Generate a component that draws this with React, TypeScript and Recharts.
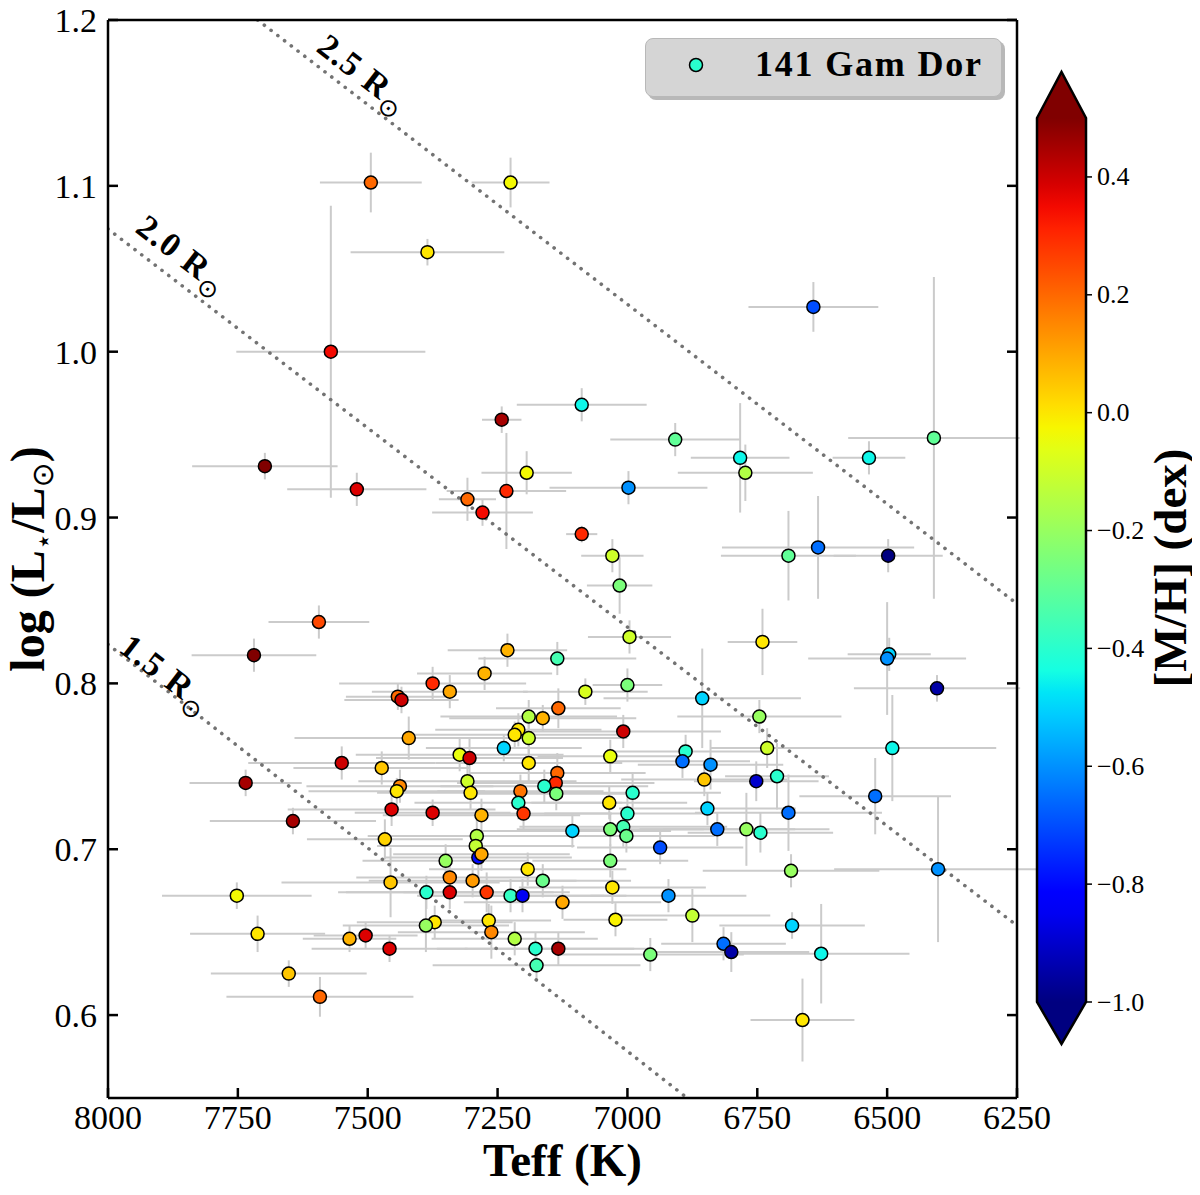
import React from 'react';
import {
    ScatterChart, Scatter, XAxis, YAxis, ErrorBar, ReferenceLine, ReferenceDot, Legend,
} from 'recharts';

// 141 Gam Dor stars: Teff (K), log(L/Lsun), [M/H] and their uncertainties
const teff = [
    7494, 7225, 7385, 7571, 7698, 7521, 7242, 7308, 7279, 7233,
    7194, 7088, 6908, 6783, 6773, 6998, 6642, 6535, 6410, 7088,
    7029, 7015, 6996, 6690, 6633, 6498, 6740, 6496, 6500, 6404,
    6856, 6746, 6731, 6490, 6840, 6852, 6752, 6712, 6523, 6846,
    6690, 6827, 6771, 6744, 6685, 6402, 6683, 6815, 6800, 6627,
    6663, 7594, 7719, 7375, 7442, 7435, 7342, 7421, 7550, 7473,
    7735, 7438, 7444, 7454, 7375, 7644, 7467, 7350, 7342, 7456,
    7387, 7342, 7752, 7371, 7388, 7712, 7535, 7504, 7458, 7652,
    7592, 7231, 7135, 7275, 7081, 7000, 7133, 7190, 7163, 7210,
    7217, 7190, 7008, 7238, 7323, 7304, 7033, 6888, 6894, 7190,
    7135, 7138, 7160, 7137, 7308, 7302, 7206, 7210, 7200, 7281,
    6990, 7035, 7000, 7106, 7033, 7008, 7002, 7290, 7292, 7287,
    7281, 6937, 7033, 7192, 7298, 7163, 7029, 7271, 7225, 7202,
    7125, 6921, 7267, 7262, 7023, 6875, 7217, 7177, 7133, 7175,
    6956,
];
const logL = [
    1.102, 1.102, 1.060, 1.000, 0.931, 0.917, 0.959, 0.911, 0.903, 0.916,
    0.927, 0.968, 0.947, 0.936, 0.927, 0.918, 1.027, 0.936, 0.948, 0.890,
    0.877, 0.859, 0.828, 0.877, 0.882, 0.877, 0.825, 0.8175, 0.815, 0.797,
    0.791, 0.780, 0.761, 0.761, 0.751, 0.742, 0.741, 0.744, 0.732, 0.7245,
    0.722, 0.712, 0.712, 0.710, 0.687, 0.688, 0.654, 0.643, 0.638, 0.637,
    0.597, 0.837, 0.817, 0.800, 0.792, 0.790, 0.795, 0.767, 0.752, 0.749,
    0.740, 0.738, 0.735, 0.724, 0.722, 0.717, 0.706, 0.693, 0.683, 0.680,
    0.674, 0.674, 0.672, 0.656, 0.654, 0.649, 0.646, 0.648, 0.640, 0.625,
    0.611, 0.820, 0.815, 0.806, 0.795, 0.799, 0.785, 0.780, 0.779, 0.772,
    0.769, 0.767, 0.771, 0.761, 0.757, 0.755, 0.756, 0.759, 0.753, 0.752,
    0.746, 0.740, 0.738, 0.7335, 0.741, 0.734, 0.735, 0.728, 0.7215, 0.7205,
    0.734, 0.728, 0.7215, 0.711, 0.712, 0.7135, 0.708, 0.708, 0.702, 0.695,
    0.697, 0.701, 0.693, 0.688, 0.681, 0.681, 0.677, 0.674, 0.672, 0.672,
    0.668, 0.672, 0.657, 0.650, 0.6575, 0.660, 0.646, 0.640, 0.640, 0.630,
    0.6365,
];
const metal = [
    0.20, -0.03, 0.00, 0.35, 0.50, 0.38, 0.45, 0.20, 0.35, 0.30,
    -0.03, -0.45, -0.30, -0.45, -0.15, -0.60, -0.70, -0.45, -0.30, 0.30,
    -0.10, -0.25, -0.10, -0.30, -0.65, -1.00, 0.00, -0.50, -0.60, -0.95,
    -0.50, -0.20, -0.10, -0.45, -0.60, 0.05, -0.90, -0.40, -0.65, -0.50,
    -0.65, -0.65, -0.20, -0.40, -0.20, -0.60, -0.50, -0.65, -0.95, -0.45,
    0.00, 0.25, 0.50, 0.30, 0.20, 0.40, 0.10, 0.10, 0.40, 0.05,
    0.45, 0.15, 0.00, 0.38, 0.38, 0.45, 0.03, -0.20, 0.15, 0.05,
    -0.40, 0.38, -0.03, 0.00, -0.20, 0.00, 0.08, 0.38, 0.38, 0.05,
    0.20, 0.08, -0.35, 0.08, -0.08, -0.25, 0.20, -0.15, 0.08, 0.00,
    0.00, -0.10, 0.40, -0.50, -0.05, 0.40, -0.05, -0.40, -0.65, 0.00,
    0.20, 0.30, -0.40, -0.25, -0.10, 0.00, 0.18, -0.40, 0.28, 0.08,
    -0.40, 0.00, -0.40, -0.50, -0.25, -0.35, -0.28, -0.15, -0.12, -0.80,
    0.10, -0.70, -0.25, 0.00, 0.12, -0.28, 0.00, 0.28, -0.38, -0.85,
    0.10, -0.60, 0.00, 0.15, -0.02, -0.12, -0.15, -0.40, 0.45, -0.35,
    -0.25,
];
const teffErr = [
    98, 75, 148, 182, 140, 134, 38, 55, 97, 115,
    87, 125, 125, 95, 130, 152, 125, 70, 165, 30,
    60, 63, 80, 130, 185, 105, 67, 80, 152, 160,
    190, 158, 110, 200, 140, 160, 120, 100, 146, 170,
    180, 150, 160, 140, 170, 200, 140, 120, 150, 170,
    100, 97, 120, 180, 100, 110, 150, 220, 180, 170,
    108, 180, 170, 200, 150, 160, 150, 160, 180, 210,
    170, 200, 144, 150, 160, 130, 90, 100, 150, 150,
    180, 115, 152, 130, 120, 67, 120, 170, 180, 160,
    200, 190, 188, 150, 200, 180, 140, 150, 130, 180,
    170, 190, 200, 160, 210, 180, 160, 200, 170, 190,
    170, 150, 160, 190, 180, 200, 170, 210, 190, 180,
    170, 160, 150, 190, 200, 170, 180, 160, 180, 200,
    190, 150, 120, 180, 100, 150, 160, 190, 180, 200,
    180,
];
const logLErr = [
    0.018, 0.015, 0.008, 0.088, 0.008, 0.010, 0.008, 0.013, 0.008, 0.035,
    0.013, 0.010, 0.010, 0.033, 0.017, 0.010, 0.015, 0.010, 0.097, 0.005,
    0.010, 0.017, 0.010, 0.027, 0.031, 0.010, 0.020, 0.010, 0.034, 0.008,
    0.030, 0.010, 0.012, 0.032, 0.015, 0.010, 0.012, 0.020, 0.023, 0.010,
    0.023, 0.010, 0.022, 0.012, 0.010, 0.044, 0.008, 0.010, 0.012, 0.030,
    0.025, 0.010, 0.010, 0.010, 0.008, 0.008, 0.010, 0.013, 0.010, 0.010,
    0.008, 0.010, 0.008, 0.010, 0.008, 0.008, 0.012, 0.010, 0.010, 0.021,
    0.010, 0.010, 0.008, 0.010, 0.016, 0.011, 0.008, 0.008, 0.008, 0.008,
    0.012, 0.010, 0.010, 0.010, 0.008, 0.010, 0.012, 0.010, 0.008, 0.010,
    0.008, 0.010, 0.010, 0.008, 0.010, 0.012, 0.010, 0.010, 0.010, 0.012,
    0.012, 0.010, 0.010, 0.010, 0.010, 0.010, 0.010, 0.010, 0.010, 0.010,
    0.012, 0.010, 0.010, 0.010, 0.010, 0.012, 0.010, 0.010, 0.010, 0.012,
    0.010, 0.010, 0.010, 0.010, 0.010, 0.010, 0.010, 0.012, 0.010, 0.010,
    0.010, 0.010, 0.010, 0.016, 0.010, 0.016, 0.010, 0.010, 0.010, 0.010,
    0.010,
];

const xTicks = [8000, 7750, 7500, 7250, 7000, 6750, 6500, 6250];
const yTicks = [0.6, 0.7, 0.8, 0.9, 1.0, 1.1, 1.2];
const cbarTicks = [0.4, 0.2, 0.0, -0.2, -0.4, -0.6, -0.8, -1.0];

// constant-radius guide lines
const radiusLabels = ['2.5', '2.0', '1.5'];
const radiusStart = [{ x: 7712, y: 1.2 }, { x: 8000, y: 1.074 }, { x: 8000, y: 0.8235 }];
const radiusEnd = [{ x: 6250, y: 0.848 }, { x: 6250, y: 0.654 }, { x: 6885, y: 0.55 }];
const radiusLabelAt = [{ x: 7512, y: 1.166 }, { x: 7860, y: 1.057 }, { x: 7892, y: 0.804 }];

const SERIF = '"Liberation Serif", "DejaVu Serif", serif';
const MH_MIN = -1.0;
const MH_MAX = 0.5;

// matplotlib "jet" segment data
const JET_R = [[0, 0], [0.35, 0], [0.66, 1], [0.89, 1], [1, 0.5]];
const JET_G = [[0, 0], [0.125, 0], [0.375, 1], [0.64, 1], [0.91, 0], [1, 0]];
const JET_B = [[0, 0.5], [0.11, 1], [0.34, 1], [0.65, 0], [1, 0]];

const seg = (pts: number[][], t: number) => {
    for (let i = 1; i < pts.length; i++) {
        if (t <= pts[i][0]) {
            const [t0, v0] = pts[i - 1];
            const [t1, v1] = pts[i];
            return v0 + ((v1 - v0) * (t - t0)) / (t1 - t0);
        }
    }
    return pts[pts.length - 1][1];
};

const jetAt = (t: number) => {
    const c = Math.min(1, Math.max(0, t));
    const to255 = (v: number) => Math.round(v * 255);
    return `rgb(${to255(seg(JET_R, c))},${to255(seg(JET_G, c))},${to255(seg(JET_B, c))})`;
};
const metalColor = (v: number) => jetAt((v - MH_MIN) / (MH_MAX - MH_MIN));

const stars = teff.map((t, i) => ({
    teff: t, logL: logL[i], mh: metal[i], teffErr: teffErr[i], logLErr: logLErr[i],
}));

const axisStroke = { stroke: '#000', strokeWidth: 2.5 };
const tickFont = { fill: '#000', fontSize: 34, fontFamily: SERIF };

const noMarker = () => <g />;

const StarDot = (props: any) => (
    <circle cx={props.cx} cy={props.cy} r={6.5} fill={metalColor(props.payload.mh)} stroke="#000" strokeWidth={1.5} />
);

const RadiusText = ({ cx, cy, value }: { cx: number; cy: number; value: string }) => (
    <text
        x={cx} y={cy} transform={`rotate(37.5 ${cx} ${cy})`}
        textAnchor="middle" dominantBaseline="middle"
        fontFamily={SERIF} fontWeight="bold" fontSize={34} fill="#000" letterSpacing={1.5}
    >
        {`${value} R`}
        <tspan dy={10} fontSize={25} fontWeight="normal" fontFamily="DejaVu Sans">⊙</tspan>
    </text>
);

const XTitle = (props: any) => {
    const vb = props.viewBox || { x: 100, y: 1090, width: 909, height: 60 };
    return (
        <text x={vb.x + vb.width / 2} y={vb.y + 78} textAnchor="middle" fontFamily={SERIF} fontWeight="bold" fontSize={47} fill="#000">
            Teff (K)
        </text>
    );
};

const YTitle = (props: any) => {
    const vb = props.viewBox || { x: 10, y: 12, width: 90, height: 1078 };
    const x = vb.x + 26;
    const y = vb.y + vb.height / 2;
    return (
        <text x={x} y={y} transform={`rotate(-90 ${x} ${y})`} textAnchor="middle" fontFamily={SERIF} fontWeight="bold" fontSize={48} fill="#000">
            log (L
            <tspan dy={9} fontSize={28} fontFamily="DejaVu Sans" fontWeight="normal">⋆</tspan>
            <tspan dy={-9}>/L</tspan>
            <tspan dy={9} fontSize={30} fontFamily="DejaVu Sans" fontWeight="normal">⊙</tspan>
            <tspan dy={-9}>)</tspan>
        </text>
    );
};

const LegendBox = () => (
    <div style={{
        position: 'relative', width: 357, height: 59, boxSizing: 'border-box', background: '#d5d5d5',
        border: '1px solid #b8b8b8', borderRadius: 8, boxShadow: '3px 3px 0 rgba(0,0,0,0.28)', fontFamily: SERIF,
    }}>
        <svg width={18} height={18} style={{ position: 'absolute', left: 41, top: 17 }}>
            <circle cx={9} cy={9} r={6.5} fill={metalColor(-0.4)} stroke="#000" strokeWidth={1.5} />
        </svg>
        <span style={{
            position: 'absolute', left: 109, top: 5, fontSize: 36, lineHeight: '40px', fontWeight: 'bold',
            letterSpacing: 1.8, whiteSpace: 'nowrap', color: '#000',
        }}>
            141 Gam Dor
        </span>
    </div>
);

// colour bar geometry (px in the wrapper)
const CB_LEFT = 1029;
const CB_RIGHT = 1078;
const CB_TOP = 110;
const CB_BOTTOM = 994;
const CB_TIP_TOP = 64;
const CB_TIP_BOTTOM = 1036;

const ColorBar = () => {
    const mid = (CB_LEFT + CB_RIGHT) / 2;
    const yOf = (v: number) => CB_TOP + ((MH_MAX - v) / (MH_MAX - MH_MIN)) * (CB_BOTTOM - CB_TOP);
    const stops = Array.from({ length: 41 }, (_, i) => i / 40);
    const outline = `M${CB_LEFT},${CB_TOP} L${mid},${CB_TIP_TOP} L${CB_RIGHT},${CB_TOP} L${CB_RIGHT},${CB_BOTTOM} `
        + `L${mid},${CB_TIP_BOTTOM} L${CB_LEFT},${CB_BOTTOM} Z`;
    return (
        <svg width={1184} height={1179} style={{ position: 'absolute', left: 0, top: 0, overflow: 'visible', pointerEvents: 'none' }}>
            <defs>
                <linearGradient id="jetGrad" x1="0" y1="1" x2="0" y2="0">
                    {stops.map((t) => <stop key={t} offset={t} stopColor={jetAt(t)} />)}
                </linearGradient>
            </defs>
            <polygon points={`${CB_LEFT},${CB_TOP} ${mid},${CB_TIP_TOP} ${CB_RIGHT},${CB_TOP}`} fill={jetAt(1)} />
            <rect x={CB_LEFT} y={CB_TOP} width={CB_RIGHT - CB_LEFT} height={CB_BOTTOM - CB_TOP} fill="url(#jetGrad)" />
            <polygon points={`${CB_LEFT},${CB_BOTTOM} ${mid},${CB_TIP_BOTTOM} ${CB_RIGHT},${CB_BOTTOM}`} fill={jetAt(0)} />
            <path d={outline} fill="none" stroke="#000" strokeWidth={2.5} strokeLinejoin="miter" />
            {cbarTicks.map((v) => (
                <g key={v}>
                    <line x1={CB_RIGHT} x2={CB_RIGHT + 6} y1={yOf(v)} y2={yOf(v)} stroke="#000" strokeWidth={1.5} />
                    <text x={CB_RIGHT + 11} y={yOf(v)} dominantBaseline="central" fontFamily={SERIF} fontSize={26} fill="#000">
                        {v < 0 ? `\u2212${Math.abs(v).toFixed(1)}` : v.toFixed(1)}
                    </text>
                </g>
            ))}
            <text
                x={1178} y={560} transform="rotate(-90 1178 560)" textAnchor="middle"
                fontFamily={SERIF} fontWeight="bold" fontSize={47} fill="#000"
            >
                [M/H] (dex)
            </text>
        </svg>
    );
};

export default function App() {
    return (
        <div style={{ position: 'relative', width: 1184, height: 1179, fontFamily: SERIF }}>
            <style>{'.recharts-surface { overflow: visible; }'}</style>
            <ScatterChart width={1030} height={1179} margin={{ top: 11, right: 20, bottom: 29, left: 10 }}>
                <XAxis
                    type="number" dataKey="teff" domain={[6250, 8000]} reversed allowDataOverflow
                    ticks={xTicks} interval={0} height={60} tickSize={-10} tickMargin={17}
                    axisLine={axisStroke} tickLine={axisStroke} tick={tickFont}
                    label={<XTitle />}
                />
                <XAxis
                    xAxisId="top" orientation="top" type="number" domain={[6250, 8000]} reversed allowDataOverflow
                    ticks={xTicks} interval={0} height={1} tickSize={-10} tickFormatter={() => ''}
                    axisLine={axisStroke} tickLine={axisStroke}
                />
                <YAxis
                    type="number" dataKey="logL" domain={[0.55, 1.2]} allowDataOverflow
                    ticks={yTicks} interval={0} width={90} tickSize={-10} tickMargin={21}
                    tickFormatter={(v: number) => v.toFixed(1)}
                    axisLine={axisStroke} tickLine={axisStroke} tick={tickFont}
                    label={<YTitle />}
                />
                <YAxis
                    yAxisId="right" orientation="right" type="number" domain={[0.55, 1.2]} allowDataOverflow
                    ticks={yTicks} interval={0} width={1} tickSize={-10} tickFormatter={() => ''}
                    axisLine={axisStroke} tickLine={axisStroke}
                />

                {/* error bars first so every marker sits on top */}
                <Scatter data={stars} shape={noMarker} isAnimationActive={false}>
                    <ErrorBar dataKey="teffErr" direction="x" width={0} stroke="#cbcbcb" strokeWidth={2} isAnimationActive={false} />
                    <ErrorBar dataKey="logLErr" direction="y" width={0} stroke="#cbcbcb" strokeWidth={2} isAnimationActive={false} />
                </Scatter>
                <Scatter data={stars} shape={StarDot} isAnimationActive={false} />

                {radiusLabels.map((r, i) => (
                    <ReferenceLine
                        key={`rad-${r}`}
                        segment={[radiusStart[i], radiusEnd[i]]}
                        stroke="#737373" strokeWidth={3.6} strokeDasharray="0.1 8.4" strokeLinecap="round"
                        ifOverflow="hidden"
                    />
                ))}
                {radiusLabels.map((r, i) => (
                    <ReferenceDot
                        key={`rad-lbl-${r}`}
                        x={radiusLabelAt[i].x} y={radiusLabelAt[i].y} r={0} ifOverflow="visible"
                        shape={(p: any) => <RadiusText cx={p.cx} cy={p.cy} value={r} />}
                    />
                ))}

                <Legend
                    verticalAlign="middle" align="center" layout="horizontal"
                    wrapperStyle={{ left: 637, top: 30, width: 357, height: 59 }}
                    content={() => <LegendBox />}
                />
            </ScatterChart>
            <ColorBar />
        </div>
    );
}
